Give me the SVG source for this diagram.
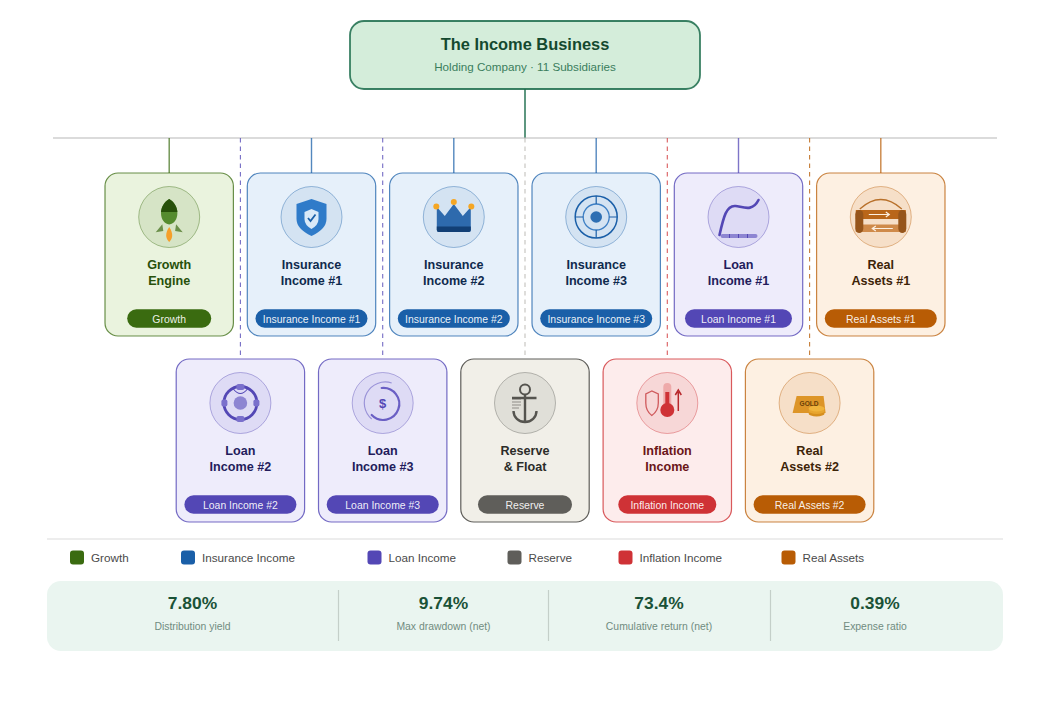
<svg xmlns="http://www.w3.org/2000/svg" width="1050" height="723" viewBox="0 0 1050 723">
<style>
text{font-family:"Liberation Sans",Arial,sans-serif;text-anchor:middle}
.card{stroke-width:1.2}
.disc{stroke-width:1;stroke-opacity:.4}
.t{font-size:12.6px;font-weight:700}
.p{font-size:10.45px;fill:#fff;fill-opacity:.92}
.leg{font-size:11.7px;fill:#4a4a4a;text-anchor:start}
.v{font-size:17.4px;font-weight:700;fill:#1a5237}
.l{font-size:10.4px;fill:#718c80}
.stub{stroke-width:1.4;fill:none;stroke-opacity:.75}
.dash{stroke-width:1.1;stroke-dasharray:4.5 4;fill:none;stroke-opacity:.8}
.gr .card,.gr .disc{stroke:#3a6b10}.gr .card{fill:#eaf3de;stroke-opacity:.75}.gr .disc{fill:#d6e4c6}.gr .pill{fill:#3a6b10}.gr .t{fill:#27500a}
.ins .card,.ins .disc{stroke:#1a5fa8}.ins .card{fill:#e6f0fa;stroke-opacity:.75}.ins .disc{fill:#d4e3f2}.ins .pill{fill:#1a5fa8}.ins .t{fill:#0f2a4d}
.ln .card,.ln .disc{stroke:#5347b5}.ln .card{fill:#eeecfb;stroke-opacity:.8}.ln .disc{fill:#dedbf5}.ln .pill{fill:#5347b5}.ln .t{fill:#231c5c}
.rs .card,.rs .disc{stroke:#5f5e5a}.rs .card{fill:#f1efe8}.rs .disc{fill:#e0dfd8}.rs .pill{fill:#5f5e5a}.rs .t{fill:#2c2c2a}
.inf .card,.inf .disc{stroke:#cf3236}.inf .card{fill:#fdecec;stroke-opacity:.8}.inf .disc{fill:#f7d7d7}.inf .pill{fill:#cf3236}.inf .t{fill:#6b1518}
.re .card,.re .disc{stroke:#b85c05}.re .card{fill:#fdf0e2;stroke-opacity:.75}.re .disc{fill:#f6dfc8}.re .pill{fill:#b85c05}.re .t{fill:#3d2408}
</style>

<g id="connectors">
<line x1="525" y1="89" x2="525" y2="138" stroke="#1a6b4a" stroke-width="2" stroke-opacity=".7"/>
<line x1="53" y1="138" x2="997" y2="138" stroke="#b8b8b8" stroke-width="1.2"/>
<path class="stub" stroke="#3a6b10" d="M169.2 138V173"/>
<path class="stub" stroke="#1a5fa8" d="M311.5 138V173"/>
<path class="stub" stroke="#1a5fa8" d="M453.8 138V173"/>
<path class="stub" stroke="#1a5fa8" d="M596.2 138V173"/>
<path class="stub" stroke="#5347b5" d="M738.5 138V173"/>
<path class="stub" stroke="#b85c05" d="M880.8 138V173"/>
<path class="dash" stroke="#5347b5" d="M240.4 138V359"/>
<path class="dash" stroke="#5347b5" d="M382.7 138V359"/>
<path class="dash" stroke="#b5b3ac" d="M525 138V359"/>
<path class="dash" stroke="#cf3236" d="M667.3 138V359"/>
<path class="dash" stroke="#b85c05" d="M809.6 138V359"/>
</g>

<g id="root">
<rect x="350" y="21" width="350" height="68" rx="14" fill="#d4edda" stroke="#1a6b4a" stroke-opacity=".85" stroke-width="1.8"/>
<text x="525" y="50" font-size="16.4" font-weight="700" fill="#14492f">The Income Business</text>
<text x="525" y="71" font-size="11.65" fill="#3a7d5c">Holding Company · 11 Subsidiaries</text>
</g>

<g id="growth-engine" class="gr" transform="translate(169.2 217)">
<rect class="card" x="-64.200" y="-44" width="128.400" height="163" rx="13"/><circle class="disc" r="30.500"/>
<path d="M0 10C2 13 3.200 16 3 19C2.800 22 1 24 0 25C-1 24-2.800 22-3 19C-3.200 16-2 13 0 10Z" fill="#f59f2a"/>
<path d="M-13.500 15.300L-6.900 7.300L-5.900 14Z" fill="#6b8f4a"/><path d="M13.500 15.300L6.900 7.300L5.900 14Z" fill="#6b8f4a"/>
<path d="M0-18C5-15 8.200-10 8.200-4C8.200 2 5 7 0 7.500C-5 7-8.200 2-8.200-4C-8.200-10-5-15 0-18Z" fill="#558b2f"/>
<path d="M0-18C5-15 7.800-10 8.200-5H-8.200C-7.800-10-5-15 0-18Z" fill="#27500a"/>
<text class="t" y="52">Growth</text><text class="t" y="68">Engine</text>
<rect class="pill" x="-42" y="92.300" width="84" height="18.500" rx="9.200"/><text class="p" y="106.300">Growth</text>
</g>

<g id="insurance-income-1" class="ins" transform="translate(311.5 217)">
<rect class="card" x="-64.200" y="-44" width="128.400" height="163" rx="13"/><circle class="disc" r="30.500"/>
<path d="M0-18L15-13V2Q15 12 0 19Q-15 12-15 2V-13Z" fill="#2f7bc9"/>
<path d="M0-8L7-5V2Q7 8 0 12Q-7 8-7 2V-5Z" fill="#d9e9f8"/>
<path d="M-3.500 1L-1 4L4-2.500" fill="none" stroke="#1a5fa8" stroke-width="1.800"/>
<text class="t" y="52">Insurance</text><text class="t" y="68">Income #1</text>
<rect class="pill" x="-56" y="92.300" width="112" height="18.500" rx="9.200"/><text class="p" y="106.300">Insurance Income #1</text>
</g>

<g id="insurance-income-2" class="ins" transform="translate(453.8 217)">
<rect class="card" x="-64.200" y="-44" width="128.400" height="163" rx="13"/><circle class="disc" r="30.500"/>
<path d="M-17-10L-9-1L0-13L9-1L17-10V13Q17 15 15 15H-15Q-17 15-17 13Z" fill="#2e6aad"/>
<path d="M-17 9.500H17V13Q17 15 15 15H-15Q-17 15-17 13Z" fill="#123f75"/>
<g fill="#f5a623"><circle cx="-17.500" cy="-10.500" r="3"/><circle cy="-15" r="3"/><circle cx="17.500" cy="-10.500" r="3"/></g>
<text class="t" y="52">Insurance</text><text class="t" y="68">Income #2</text>
<rect class="pill" x="-56" y="92.300" width="112" height="18.500" rx="9.200"/><text class="p" y="106.300">Insurance Income #2</text>
</g>

<g id="insurance-income-3" class="ins" transform="translate(596.2 217)">
<rect class="card" x="-64.200" y="-44" width="128.400" height="163" rx="13"/><circle class="disc" r="30.500"/>
<circle r="21" fill="none" stroke="#1a5fa8" stroke-width="1.500"/>
<circle r="13" fill="none" stroke="#3d7fc4" stroke-width="1.300"/>
<circle r="5.800" fill="#2e6fb3"/>
<path d="M0-21V-13M0 13V21M-21 0H-13M13 0H21" stroke="#1a5fa8" stroke-width="1.200"/>
<text class="t" y="52">Insurance</text><text class="t" y="68">Income #3</text>
<rect class="pill" x="-56" y="92.300" width="112" height="18.500" rx="9.200"/><text class="p" y="106.300">Insurance Income #3</text>
</g>

<g id="loan-income-1" class="ln" transform="translate(738.5 217)">
<rect class="card" x="-64.200" y="-44" width="128.400" height="163" rx="13"/><circle class="disc" r="30.500"/>
<rect x="-18" y="17" width="37" height="4" rx="2" fill="#8d85d2"/>
<path d="M-9 17V21M0 17V21M9 17V21" stroke="#5347b5" stroke-width="1"/>
<path d="M-19 18C-15 0-12-12-3-11C5-10 14-5 20-17" fill="none" stroke="#5347b5" stroke-width="2.600" stroke-linecap="round"/>
<text class="t" y="52">Loan</text><text class="t" y="68">Income #1</text>
<rect class="pill" x="-53.500" y="92.300" width="107" height="18.500" rx="9.200"/><text class="p" y="106.300">Loan Income #1</text>
</g>

<g id="real-assets-1" class="re" transform="translate(880.8 217)">
<rect class="card" x="-64.200" y="-44" width="128.400" height="163" rx="13"/><circle class="disc" r="30.500"/>
<path d="M-21-8Q0-27 21-8" fill="none" stroke="#b8702a" stroke-width="1.300"/>
<rect x="-25" y="-7" width="50" height="9" fill="#b9661a"/>
<rect x="-25" y="7.500" width="50" height="7.500" fill="#cf8a4a"/>
<rect x="-25.500" y="-7" width="8" height="23" rx="4.500" fill="#96551b"/>
<rect x="17.500" y="-7" width="8" height="23" rx="4.500" fill="#96551b"/>
<path d="M-12-2.500H8M5-5L8.500-2.500L5 0M12 11.500H-8M-5 9L-8.500 11.500L-5 14" fill="none" stroke="#fdf0e2" stroke-width="1.200"/>
<text class="t" y="52">Real</text><text class="t" y="68">Assets #1</text>
<rect class="pill" x="-56" y="92.300" width="112" height="18.500" rx="9.200"/><text class="p" y="106.300">Real Assets #1</text>
</g>

<g id="loan-income-2" class="ln" transform="translate(240.4 403)">
<rect class="card" x="-64.200" y="-44" width="128.400" height="163" rx="13"/><circle class="disc" r="30.500"/>
<circle r="16.500" fill="none" stroke="#5347b5" stroke-width="2.800"/>
<circle r="6.800" fill="#8d85d2"/>
<g fill="#7a70cc"><rect x="-4" y="-19" width="8" height="6" rx="2"/><rect x="-4" y="13" width="8" height="6" rx="2"/><rect x="-19" y="-3.500" width="6" height="7" rx="2"/><rect x="13" y="-3.500" width="6" height="7" rx="2"/></g>
<path d="M-7-14Q0-5 7-14" fill="none" stroke="#5347b5" stroke-width="1.100"/>
<text class="t" y="52">Loan</text><text class="t" y="68">Income #2</text>
<rect class="pill" x="-56" y="92.300" width="112" height="18.500" rx="9.200"/><text class="p" y="106.300">Loan Income #2</text>
</g>

<g id="loan-income-3" class="ln" transform="translate(382.700 403)">
<rect class="card" x="-64.200" y="-44" width="128.400" height="163" rx="13"/><circle class="disc" r="30.500"/>
<path d="M9-20A21 21 0 0 0-11 16" fill="none" stroke="#9a93d8" stroke-width="1.200"/>
<path d="M-1-15A16 16 0 1 1-11 12" fill="none" stroke="#6a5fc4" stroke-width="2.200" stroke-linecap="round"/>
<text y="5" font-size="13" font-weight="700" fill="#5347b5">$</text>
<text class="t" y="52">Loan</text><text class="t" y="68">Income #3</text>
<rect class="pill" x="-56" y="92.300" width="112" height="18.500" rx="9.200"/><text class="p" y="106.300">Loan Income #3</text>
</g>

<g id="reserve-float" class="rs" transform="translate(525 403)">
<rect class="card" x="-64.200" y="-44" width="128.400" height="163" rx="13"/><circle class="disc" r="30.500"/>
<path d="M-13-4H-4M-13-1H-4M-13 2H-4M-13 5H-6" stroke="#aaa9a2" stroke-width="1.500"/>
<circle cy="-13.500" r="5" fill="none" stroke="#55544f" stroke-width="2"/>
<path d="M0-8.500V18M-13-5H11.500M-11.500 8A11.500 11 0 0 0 11.500 8" fill="none" stroke="#55544f" stroke-width="2.400"/>
<text class="t" y="52">Reserve</text><text class="t" y="68">&amp; Float</text>
<rect class="pill" x="-47" y="92.300" width="94" height="18.500" rx="9.200"/><text class="p" y="106.300">Reserve</text>
</g>

<g id="inflation-income" class="inf" transform="translate(667.3 403)">
<rect class="card" x="-64.200" y="-44" width="128.400" height="163" rx="13"/><circle class="disc" r="30.500"/>
<path d="M-15.500-12L-21.500-9V0Q-21.500 8-15.500 12.500Q-9 8-9 0V-9Z" fill="none" stroke="#cf5a5c" stroke-width="1.300"/>
<rect x="-4" y="-20" width="8" height="26" rx="4" fill="#eeaaaa"/>
<rect x="-2" y="-11" width="4" height="16" fill="#cf3236"/>
<circle cy="7" r="7" fill="#cf3236"/>
<path d="M11 8V-11M8-8L11-13L14-8" fill="none" stroke="#b8282c" stroke-width="1.500"/>
<text class="t" y="52">Inflation</text><text class="t" y="68">Income</text>
<rect class="pill" x="-49" y="92.300" width="98" height="18.500" rx="9.200"/><text class="p" y="106.300">Inflation Income</text>
</g>

<g id="real-assets-2" class="re" transform="translate(809.6 403)">
<rect class="card" x="-64.200" y="-44" width="128.400" height="163" rx="13"/><circle class="disc" r="30.500"/>
<path d="M-13-7H14L16 10H-17Z" fill="#dd9528"/>
<ellipse cx="7" cy="10.500" rx="8" ry="3" fill="#d68f1f"/>
<ellipse cx="7" cy="8" rx="8" ry="3" fill="#e7a52f"/>
<ellipse cx="7" cy="5.500" rx="8" ry="3" fill="#f0b43c"/>
<text x="-0.500" y="3" font-size="6.600" font-weight="700" fill="#6b4208">GOLD</text>
<text class="t" y="52">Real</text><text class="t" y="68">Assets #2</text>
<rect class="pill" x="-56" y="92.300" width="112" height="18.500" rx="9.200"/><text class="p" y="106.300">Real Assets #2</text>
</g>

<line x1="47" y1="539" x2="1003" y2="539" stroke="#dcdcdc" stroke-width="1.200"/>

<g id="legend">
<rect x="70" y="550.500" width="14" height="14" rx="3" fill="#3a6b10"/><text class="leg" x="91" y="562">Growth</text>
<rect x="181" y="550.500" width="14" height="14" rx="3" fill="#1a5fa8"/><text class="leg" x="202" y="562">Insurance Income</text>
<rect x="367.500" y="550.500" width="14" height="14" rx="3" fill="#5347b5"/><text class="leg" x="388.500" y="562">Loan Income</text>
<rect x="507.500" y="550.500" width="14" height="14" rx="3" fill="#5f5e5a"/><text class="leg" x="528.500" y="562">Reserve</text>
<rect x="618.500" y="550.500" width="14" height="14" rx="3" fill="#cf3236"/><text class="leg" x="639.500" y="562">Inflation Income</text>
<rect x="781.500" y="550.500" width="14" height="14" rx="3" fill="#b85c05"/><text class="leg" x="802.500" y="562">Real Assets</text>
</g>

<g id="stats">
<rect x="47" y="581" width="956" height="70" rx="14" fill="#eaf5f0"/>
<path d="M338.500 590V641M548.500 590V641M770.500 590V641" stroke="#c4cfc9" stroke-width="1.200"/>
<text class="v" x="192.500" y="609">7.80%</text><text class="l" x="192.500" y="630">Distribution yield</text>
<text class="v" x="443.500" y="609">9.74%</text><text class="l" x="443.500" y="630">Max drawdown (net)</text>
<text class="v" x="659" y="609">73.4%</text><text class="l" x="659" y="630">Cumulative return (net)</text>
<text class="v" x="875" y="609">0.39%</text><text class="l" x="875" y="630">Expense ratio</text>
</g>
</svg>
